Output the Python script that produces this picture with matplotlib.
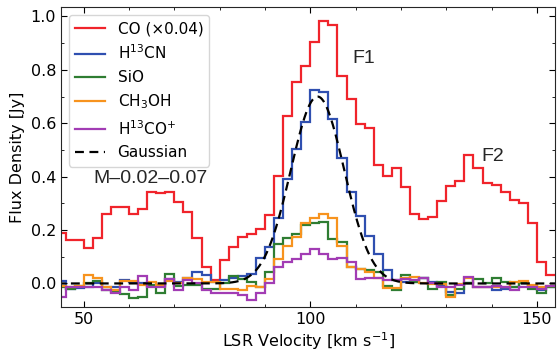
import numpy as np
import matplotlib
matplotlib.use("Agg")
import matplotlib.pyplot as plt
from matplotlib.ticker import MultipleLocator

# channel centres (km/s), 2 km/s channels
velocity = [45, 47, 49, 51, 53, 55, 57, 59, 61, 63, 65, 67, 69, 71, 73, 75, 77, 79,
            81, 83, 85, 87, 89, 91, 93, 95, 97, 99, 101, 103, 105, 107, 109, 111,
            113, 115, 117, 119, 121, 123, 125, 127, 129, 131, 133, 135, 137, 139,
            141, 143, 145, 147, 149, 151, 153]

co_scaled = [0.19, 0.162, 0.162, 0.131, 0.169, 0.259, 0.288, 0.285, 0.261, 0.279,
             0.342, 0.338, 0.342, 0.306, 0.269, 0.172, 0.063, 0.013, 0.088, 0.137,
             0.175, 0.184, 0.203, 0.256, 0.403, 0.627, 0.753, 0.815, 0.903, 0.984,
             0.968, 0.777, 0.691, 0.597, 0.583, 0.443, 0.402, 0.431, 0.362, 0.259,
             0.24, 0.25, 0.31, 0.365, 0.385, 0.48, 0.431, 0.375, 0.369, 0.343,
             0.312, 0.3, 0.225, 0.081, 0.031]

h13cn = [0.01, -0.022, -0.018, -0.015, 0.0, -0.015, -0.015, 0.012, 0.006, 0.0,
         -0.01, -0.01, 0.015, 0.006, 0.019, 0.044, 0.031, 0.006, 0.013, 0.019,
         0.028, 0.037, 0.094, 0.137, 0.244, 0.391, 0.503, 0.603, 0.724, 0.716,
         0.616, 0.469, 0.341, 0.254, 0.177, 0.11, 0.052, 0.012, 0.006, 0.006,
         0.022, 0.006, -0.01, -0.031, -0.035, 0.0, -0.015, -0.015, -0.025, -0.022,
         -0.015, 0.0, -0.01, -0.025, -0.015]

sio = [-0.015, -0.019, -0.01, 0.003, 0.01, -0.025, -0.031, -0.04, -0.056, -0.052,
       -0.006, -0.035, 0.035, -0.01, -0.006, -0.006, -0.019, -0.019, 0.003, 0.028,
       0.015, 0.006, -0.012, 0.044, 0.146, 0.169, 0.184, 0.219, 0.225, 0.232,
       0.165, 0.155, 0.063, 0.056, 0.05, 0.044, -0.01, -0.025, 0.031, 0.006,
       0.019, -0.019, 0.006, -0.045, -0.019, 0.0, 0.015, 0.0, 0.019, 0.006,
       -0.012, 0.0, -0.019, -0.037, -0.015]

ch3oh = [-0.01, -0.015, -0.01, 0.033, 0.02, -0.013, -0.026, 0.01, 0.01, -0.006,
         0.005, -0.006, 0.009, 0.0, 0.019, 0.017, 0.006, 0.006, -0.019, -0.022,
         -0.025, -0.01, -0.015, 0.016, 0.09, 0.14, 0.175, 0.225, 0.244, 0.262,
         0.247, 0.14, 0.063, 0.056, 0.044, 0.019, -0.017, -0.017, 0.022, 0.025,
         0.003, -0.003, -0.003, -0.05, -0.003, 0.022, -0.015, -0.015, -0.012, -0.012,
         0.006, 0.008, -0.006, -0.012, -0.008]

h13cop = [-0.05, -0.015, -0.015, -0.012, -0.015, -0.025, -0.035, -0.015, -0.025, 0.027,
          -0.015, -0.015, 0.016, -0.025, 0.013, 0.003, -0.025, -0.035, -0.035, -0.035,
          -0.044, -0.062, -0.035, 0.0, 0.062, 0.081, 0.092, 0.11, 0.13, 0.11,
          0.092, 0.094, 0.081, 0.017, 0.019, 0.02, 0.013, 0.013, 0.015, 0.013,
          0.019, 0.0, -0.015, -0.015, -0.005, 0.025, -0.015, -0.015, -0.01, -0.015,
          -0.025, -0.015, -0.015, -0.019, -0.01]

# Gaussian fit parameters (to H13CN)
gauss_amp = 0.70
gauss_center = 101.6
gauss_sigma = 5.9

labels = ["CO (×0.04)", "H$^{13}$CN", "SiO", "CH$_3$OH", "H$^{13}$CO$^{+}$", "Gaussian"]
colors = ["#f0242b", "#2f4fb0", "#2e7d32", "#f7931e", "#a23cb4"]

plt.rcParams["font.family"] = ["DejaVu Sans"]
plt.rcParams["mathtext.fontset"] = "dejavusans"

fig = plt.figure(figsize=(5.57, 3.52), dpi=100)
ax = fig.add_axes([0.1095, 0.1287, 0.887, 0.8503])

vel = np.array(velocity, dtype=float)
edges = np.append(vel - 1.0, vel[-1] + 1.0)

series = [co_scaled, h13cn, sio, ch3oh, h13cop]
for vals, col, lab in zip(series, colors, labels[:5]):
    ax.stairs(vals, edges, baseline=None, color=col, lw=1.6, label=lab)

vfine = np.linspace(edges[0], edges[-1], 600)
gauss = gauss_amp * np.exp(-0.5 * ((vfine - gauss_center) / gauss_sigma) ** 2)
ax.plot(vfine, gauss, color="black", lw=1.6, ls=(0, (4, 2.5)), label=labels[5])

ax.set_xlim(45, 154)
ax.set_ylim(-0.087, 1.034)
ax.xaxis.set_major_locator(MultipleLocator(50))
ax.xaxis.set_minor_locator(MultipleLocator(10))
ax.yaxis.set_major_locator(MultipleLocator(0.2))
ax.yaxis.set_minor_locator(MultipleLocator(0.1))
ax.tick_params(which="both", direction="in", top=True, right=True, labelsize=11.5)
ax.tick_params(which="major", length=4.5)
ax.tick_params(which="minor", length=2.5)
for sp in ax.spines.values():
    sp.set_color("0.15")

ax.set_xlabel("LSR Velocity [km s$^{-1}$]", fontsize=11.5, labelpad=3)
ax.set_ylabel("Flux Density [Jy]", fontsize=11.5, labelpad=4)

ann_font = ["Liberation Sans", "DejaVu Sans"]
ax.text(111.8, 0.844, "F1", fontsize=14, ha="center", va="center", color="0.15", family=ann_font)
ax.text(140.3, 0.477, "F2", fontsize=14, ha="center", va="center", color="0.15", family=ann_font)
ax.text(64.7, 0.395, "M–0.02–0.07", fontsize=14, ha="center", va="center", color="0.15", family=ann_font)

ax.legend(loc="upper left", fontsize=11, handlelength=2.0, borderaxespad=0.5)

fig.savefig("out.png", dpi=100)
